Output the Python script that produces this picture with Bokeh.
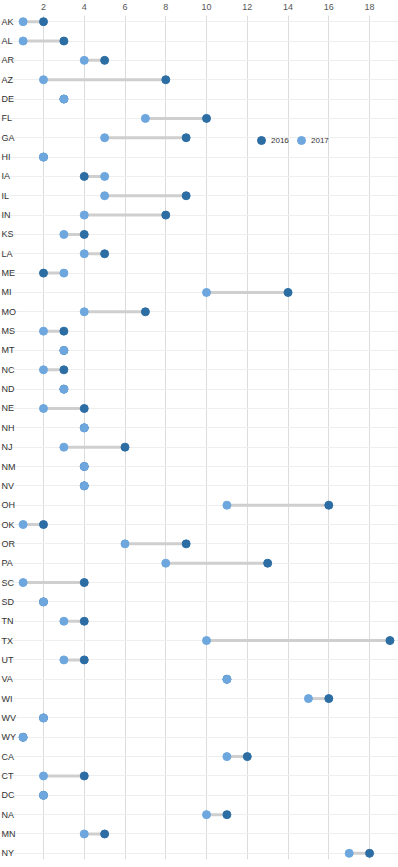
from bokeh.plotting import figure
from bokeh.models import (Range1d, FactorRange, FixedTicker, Grid, CategoricalTicker,
                          ColumnDataSource, LabelSet, Legend, LegendItem)
from bokeh.core.properties import value
from bokeh.embed import file_html
from bokeh.resources import INLINE

states = ["AK", "AL", "AR", "AZ", "DE", "FL", "GA", "HI", "IA", "IL", "IN", "KS", "LA", "ME",
          "MI", "MO", "MS", "MT", "NC", "ND", "NE", "NH", "NJ", "NM", "NV", "OH", "OK", "OR",
          "PA", "SC", "SD", "TN", "TX", "UT", "VA", "WI", "WV", "WY", "CA", "CT", "DC", "NA",
          "MN", "NY"]
v2016 = [2, 3, 5, 8, 3, 10, 9, 2, 4, 9, 8, 4, 5, 2,
         14, 7, 3, 3, 3, 3, 4, 4, 6, 4, 4, 16, 2, 9,
         13, 4, 2, 4, 19, 4, 11, 16, 2, 1, 12, 4, 2, 11,
         5, 18]
v2017 = [1, 1, 4, 2, 3, 7, 5, 2, 5, 5, 4, 3, 4, 3,
         10, 4, 2, 3, 2, 3, 2, 4, 3, 4, 4, 11, 1, 6,
         8, 1, 2, 3, 10, 3, 11, 15, 2, 1, 11, 2, 2, 10,
         4, 17]
x_ticks = [2, 4, 6, 8, 10, 12, 14, 16, 18]
series_names = ["2016", "2017"]

DARK = "#2c6da4"
LIGHT = "#6da7de"
FONT = "Liberation Sans"

src = ColumnDataSource(dict(state=states, v2016=v2016, v2017=v2017))

p = figure(width=398, height=867, output_backend="svg", toolbar_location=None,
           x_range=Range1d(-0.11, 19.42),
           y_range=FactorRange(factors=list(reversed(states)), range_padding=-0.18,
                               range_padding_units="absolute"),
           x_axis_location="above", y_axis_location=None,
           min_border_left=0, min_border_right=0, min_border_top=0, min_border_bottom=8)
p.outline_line_color = None
p.background_fill_color = "white"

ax = p.xaxis[0]
ax.ticker = FixedTicker(ticks=x_ticks)
ax.axis_line_color = None
ax.major_tick_line_color = None
ax.minor_tick_line_color = None
ax.major_label_standoff = 0
ax.major_label_text_font = FONT
ax.major_label_text_font_size = "9px"
ax.major_label_text_color = "#555555"

p.xgrid.grid_line_color = "#dcdcdc"
p.xgrid.ticker = FixedTicker(ticks=x_ticks)
p.add_layout(Grid(dimension=1, ticker=CategoricalTicker(), grid_line_color="#eeeeee"))

p.segment(x0="v2017", y0="state", x1="v2016", y1="state", source=src,
          line_color="#cfcfcf", line_width=3)
r16 = p.scatter(x="v2016", y="state", source=src, size=8, fill_color=DARK, line_color=DARK)
r17 = p.scatter(x="v2017", y="state", source=src, size=8, fill_color=LIGHT, line_color=LIGHT)

labels = LabelSet(x=1, y="state", x_units="screen", text="state", source=src,
                  text_font=value(FONT), text_font_size="9px", text_color="#333333",
                  text_align="left", text_baseline="middle")
p.add_layout(labels)

legend = Legend(items=[LegendItem(label=series_names[0], renderers=[r16]),
                       LegendItem(label=series_names[1], renderers=[r17])],
                location=(251, 709), orientation="horizontal",
                border_line_color=None, background_fill_alpha=0,
                label_text_font=FONT, label_text_font_size="8px", label_text_color="#333333",
                glyph_width=20, glyph_height=20, label_standoff=-1, spacing=-9,
                padding=2, margin=0)
p.add_layout(legend)

open("out.html", "w").write(file_html(p, INLINE))
